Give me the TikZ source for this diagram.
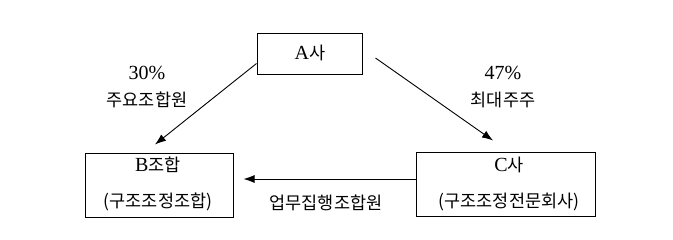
\documentclass[tikz,border=0pt]{standalone}
\usepackage{fontspec}
\setmainfont{Liberation Serif}
\newfontfamily\kr{Noto Sans CJK KR}
\newcommand{\krt}{\kr\fontsize{17.5}{20}\selectfont}
\usetikzlibrary{arrows.meta}
\begin{document}
\begin{tikzpicture}[x=1pt,y=-1pt,
  boxnode/.style={draw,line width=1pt,inner sep=0pt},
  txt/.style={inner sep=0pt,font=\fontsize{20}{22}\selectfont},
  arr/.style={line width=0.9pt,-{Latex[length=11pt,width=8pt]}}]
\useasboundingbox (0,0) rectangle (673,239);
\fill[white] (0,0) rectangle (673,239);
\node[boxnode,minimum width=105pt,minimum height=41pt] (A) at (309.5,53.5) {};
\node[boxnode,minimum width=148pt,minimum height=64pt] (B) at (159,185) {};
\node[boxnode,minimum width=179pt,minimum height=64pt] (C) at (505.5,184) {};
\node[txt] (At) at (310,53) {A{\krt 사}};
\node[txt] (Bt1) at (158,165) {B{\krt 조합}};
\node[txt] (Bt2) at (158,202) {{\krt (구조조정조합)}};
\node[txt] (Ct1) at (509,165) {C{\krt 사}};
\node[txt] (Ct2) at (509,202) {{\krt (구조조정전문회사)}};
\node[txt] (p30) at (147,73) {30\%};
\node[txt] (l30) at (147,100) {{\krt 주요조합원}};
\node[txt] (p47) at (503,73) {47\%};
\node[txt] (l47) at (503,100) {{\krt 최대주주}};
\node[txt] (lcb) at (326,203) {{\krt 업무집행조합원}};
\draw[arr] ([yshift=11pt]A.south west) -- ([xshift=-4pt,yshift=8pt]B.north);
\draw[arr] ([xshift=13pt,yshift=-4.5pt]A.east) -- ([xshift=-12.5pt,yshift=11pt]C.north);
\draw[arr] ([yshift=5pt]C.west) -- ([xshift=10pt,yshift=6pt]B.east);
\end{tikzpicture}
\end{document}
